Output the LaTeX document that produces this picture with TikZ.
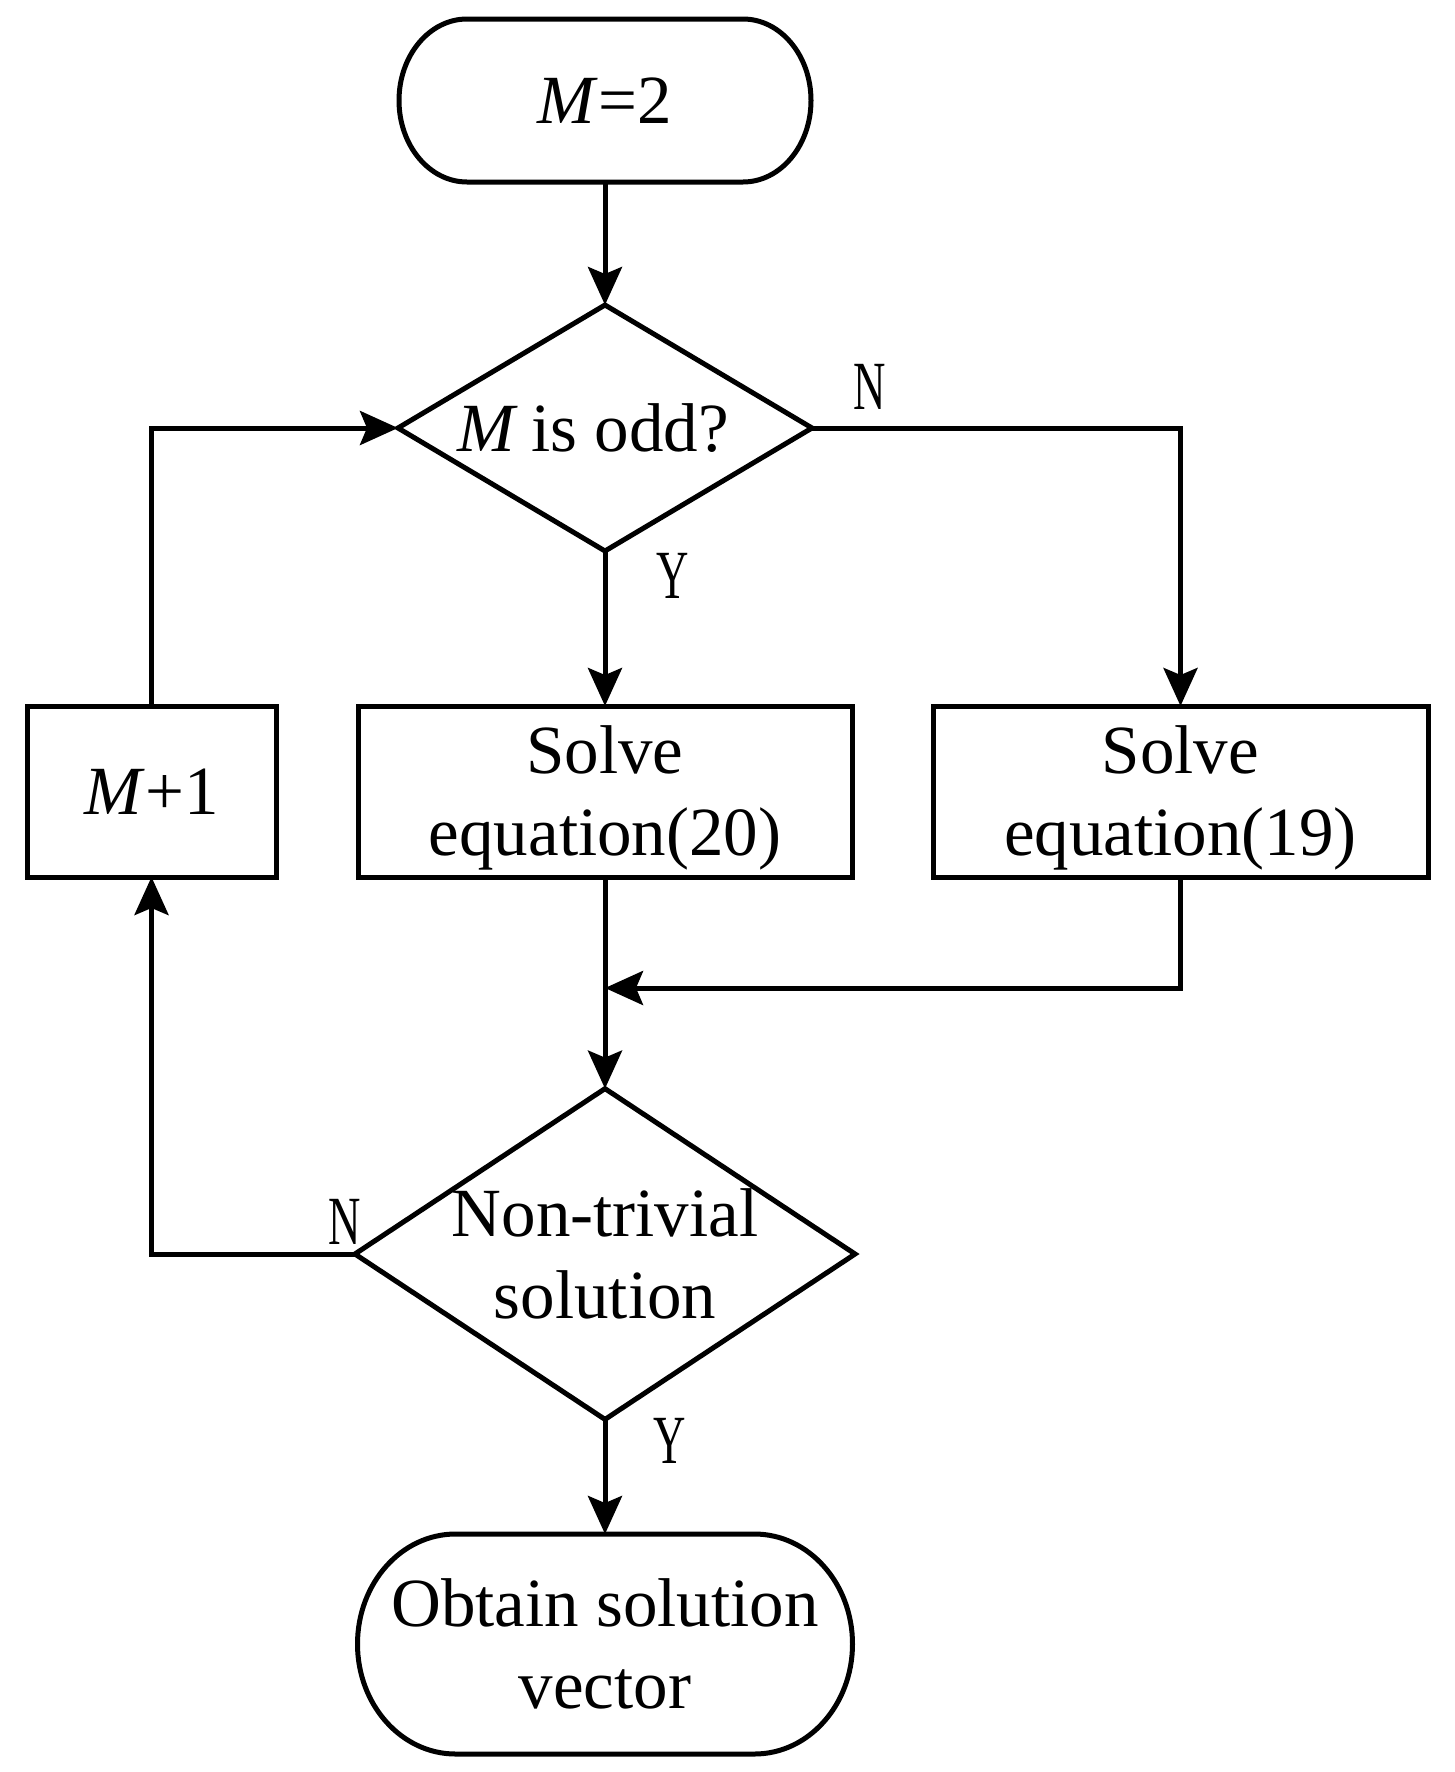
\documentclass[tikz,border=0pt]{standalone}
\usepackage{fontspec}
\setmainfont{Liberation Serif}
\newfontfamily\narrowfont{Liberation Serif}[FakeStretch=0.65]
\usetikzlibrary{arrows.meta,shapes.geometric,calc}
\newcommand\twolines[2]{\vbox{\halign{\hfil##\hfil\cr #1\cr #2\cr}}}
\newcommand\capsuleoutline[3]{%
  \draw[shapeline] ([xshift=#2]#1.north west) -- ([xshift=-#2]#1.north east)
    .. controls ([xshift=-0.4477*#2]#1.north east) and ([yshift=0.5523*#3]#1.east) .. (#1.east)
    .. controls ([yshift=-0.5523*#3]#1.east) and ([xshift=-0.4477*#2]#1.south east) .. ([xshift=-#2]#1.south east)
    -- ([xshift=#2]#1.south west)
    .. controls ([xshift=0.4477*#2]#1.south west) and ([yshift=-0.5523*#3]#1.west) .. (#1.west)
    .. controls ([yshift=0.5523*#3]#1.west) and ([xshift=0.4477*#2]#1.north west) .. cycle;}
\tikzset{
  basenode/.style={font=\fontsize{69}{82}\selectfont, inner sep=0pt, outer sep=0pt, line width=5pt},
  onel/.style={text height=46pt, text depth=0pt},
  twol/.style={text height=128pt, text depth=0pt},
  procbox/.style={basenode, draw, rectangle, minimum height=171pt},
  termnode/.style={basenode, rectangle},
  decision/.style={basenode, draw, diamond},
  shapeline/.style={line width=5pt},
  flow/.style={line width=5pt, -{Stealth[length=38pt,width=34pt,inset=7pt]}},
  yn/.style={font=\narrowfont\fontsize{69}{82}\selectfont, anchor=base, inner sep=0pt, outer sep=0pt},
}
\begin{document}
\begin{tikzpicture}[x=1pt,y=-1pt]
\useasboundingbox[fill=white] (0,0) rectangle (1454,1772);

% nodes
\node[termnode, onel, minimum width=412pt, minimum height=163pt] (c1) at (605,100.5) {\textit{M}=2};
\capsuleoutline{c1}{68pt}{81.5pt}

\node[decision, onel, minimum width=414pt, minimum height=246pt, shape aspect=1.68] (d1) at (605,428) {\textit{M}\kern-4pt{} is odd?\hspace*{24pt}};

\node[procbox, onel, minimum width=249pt] (b1) at (151.5,791.5) {\textit{M}+1};
\node[procbox, twol, minimum width=494pt] (b2) at (605,791.5) {\twolines{Solve}{equation(20)}};
\node[procbox, twol, minimum width=495pt] (b3) at (1180.5,791.5) {\twolines{Solve}{equation(19)}};

\node[decision, twol, minimum width=496pt, minimum height=328pt, shape aspect=1.512] (d2) at (605,1254) {\twolines{Non-trivial}{solution}};

\node[termnode, twol, minimum width=495pt, minimum height=220pt] (c2) at (605,1644) {\twolines{Obtain solution}{vector}};
\capsuleoutline{c2}{98pt}{110pt}

\coordinate (mg) at (605,988);

% connectors
\draw[flow] (c1.south) -- (d1.north);
\draw[flow] (d1.south) -- (b2.north);
\draw[flow] (d1.east) -| (b3.north);
\draw[flow] (b2.south) -- (d2.north);
\draw[flow] (b3.south) |- (mg);
\draw[flow] (d2.west) -| (b1.south);
\draw[flow] (b1.north) |- (d1.west);
\draw[flow] (d2.south) -- (c2.north);

% labels
\node[yn] (ln1) at (870,409) {N};
\node[yn] (ly1) at (673,598) {Y};
\node[yn] (ln2) at (345,1244) {N};
\node[yn] (ly2) at (670,1463) {Y};
\end{tikzpicture}
\end{document}
